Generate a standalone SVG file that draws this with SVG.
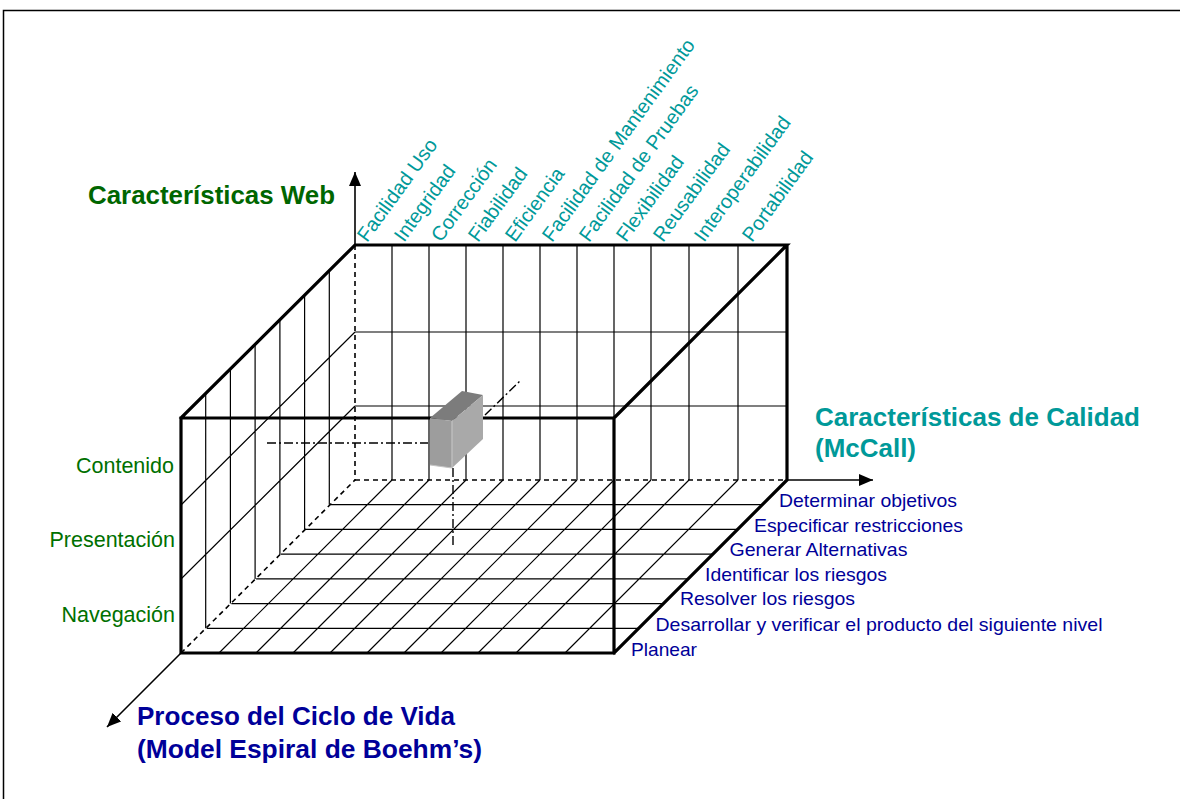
<svg xmlns="http://www.w3.org/2000/svg" width="1180" height="799" viewBox="0 0 1180 799">
<defs>
<marker id="ah" markerUnits="userSpaceOnUse" markerWidth="16" markerHeight="14" refX="14" refY="6" orient="auto">
<path d="M0,0 L14,6 L0,12 z" fill="#000"/>
</marker>
<style>
.thin{stroke:#000;stroke-width:1.2;fill:none}
.thick{stroke:#000;stroke-width:3.2;fill:none;stroke-linecap:square;stroke-linejoin:miter}
.dash{stroke:#000;stroke-width:1.6;fill:none;stroke-dasharray:5 4}
.dd{stroke:#000;stroke-width:1.4;fill:none;stroke-dasharray:9 3 2 3}
.axis{stroke:#000;stroke-width:1.6;fill:none}
text{font-family:"Liberation Sans",Arial,Helvetica,sans-serif}
.t-bold{font-weight:bold;font-size:25px}
.green{fill:#006600}
.teal{fill:#009999}
.blue{fill:#000099}
.lbl-g{font-size:21.5px;fill:#007000;text-anchor:end}
.lbl-b{font-size:19px;fill:#000099}
.lbl-t{font-size:20px;fill:#009999}
</style>
</defs>
<rect id="frame" x="3.5" y="10.5" width="1200" height="800" fill="#fff" stroke="#000" stroke-width="1.5"/>

<g id="cube">
<g id="back-face">
<path class="thin" d="M392,245V480 M429,245V480 M466,245V480 M503,245V480 M540,245V480 M577,245V480 M614,245V480 M651,245V480 M689,245V480 M738,245V480 M355,332H787 M355,406H787"/>
</g>
<g id="left-face">
<path class="thin" d="M205.7,393.3V628.3 M230.4,368.6V603.6 M255.1,343.9V578.9 M279.9,319.1V554.1 M304.6,294.4V529.4 M329.3,269.7V504.7 M181,505L355,332 M181,579L355,406"/>
</g>
<g id="floor">
<path class="thin" d="M330.3,504.7H762.3 M305.6,529.4H737.6 M280.9,554.1H712.9 M256.1,578.9H688.1 M231.4,603.6H663.4 M206.7,628.3H638.7 M219,653L392,480 M256,653L429,480 M293,653L466,480 M330,653L503,480 M367,653L540,480 M404,653L577,480 M441,653L614,480 M478,653L651,480 M516,653L689,480 M565,653L738,480"/>
</g>
<g id="hidden-edges">
<path class="dash" d="M355,245V480 M355,480H787 M181,653L355,480"/>
</g>
<g id="outer-edges">
<path class="thick" d="M181,418H614V653H181Z M181,418L355,245H787L614,418 M787,245V480L614,653"/>
</g>
</g>

<g id="connectors">
<path class="axis" d="M355,245V172" marker-end="url(#ah)"/>
<path class="axis" d="M787,480H873" marker-end="url(#ah)"/>
<path class="axis" d="M181,653L107,727" marker-end="url(#ah)"/>
<path class="dd" d="M267,443H428"/>
<path class="dd" d="M453,468V546"/>
<path class="dd" d="M485,415L521,380"/>
</g>

<g id="box">
<polygon points="430,418 462,391 483,395 452,421" fill="#7c7c7c"/>
<polygon points="430,418 452,421 452,468 430,465" fill="#9d9d9d"/>
<polygon points="452,421 483,395 483,439 452,468" fill="#a9a9a9"/>
<path d="M452,421V468 M430,465L452,468" stroke="#c4c4c4" stroke-width="1.2" fill="none"/>
</g>

<g id="title-web">
<text class="t-bold green" x="88" y="204" textLength="247" lengthAdjust="spacingAndGlyphs">Características Web</text>
</g>
<g id="title-quality">
<text class="t-bold teal" x="815" y="426" textLength="325" lengthAdjust="spacingAndGlyphs">Características de Calidad</text>
<text class="t-bold teal" x="815" y="457" textLength="101" lengthAdjust="spacingAndGlyphs">(McCall)</text>
</g>
<g id="title-process">
<text class="t-bold blue" x="137" y="725" textLength="318" lengthAdjust="spacingAndGlyphs">Proceso del Ciclo de Vida</text>
<text class="t-bold blue" x="137" y="758" textLength="345" lengthAdjust="spacingAndGlyphs">(Model Espiral de Boehm’s)</text>
</g>

<g id="web-labels">
<text class="lbl-g" x="174" y="473">Contenido</text>
<text class="lbl-g" x="175" y="547">Presentación</text>
<text class="lbl-g" x="175" y="622">Navegación</text>
</g>

<g id="process-labels">
<text class="lbl-b" x="779" y="507" textLength="178" lengthAdjust="spacingAndGlyphs">Determinar objetivos</text>
<text class="lbl-b" x="754" y="531.5" textLength="209" lengthAdjust="spacingAndGlyphs">Especificar restricciones</text>
<text class="lbl-b" x="729.5" y="556" textLength="178" lengthAdjust="spacingAndGlyphs">Generar Alternativas</text>
<text class="lbl-b" x="705" y="580.5" textLength="182" lengthAdjust="spacingAndGlyphs">Identificar los riesgos</text>
<text class="lbl-b" x="680" y="605" textLength="175" lengthAdjust="spacingAndGlyphs">Resolver los riesgos</text>
<text class="lbl-b" x="655.5" y="631" textLength="447" lengthAdjust="spacingAndGlyphs">Desarrollar y verificar el producto del siguiente nivel</text>
<text class="lbl-b" x="631" y="656" textLength="66" lengthAdjust="spacingAndGlyphs">Planear</text>
</g>

<g id="quality-labels">
<text class="lbl-t" transform="translate(367,243) rotate(-54)">Facilidad Uso</text>
<text class="lbl-t" transform="translate(404,243) rotate(-54)">Integridad</text>
<text class="lbl-t" transform="translate(441,243) rotate(-54)">Corrección</text>
<text class="lbl-t" transform="translate(478,243) rotate(-54)">Fiabilidad</text>
<text class="lbl-t" transform="translate(515,243) rotate(-54)">Eficiencia</text>
<text class="lbl-t" transform="translate(552,243) rotate(-54)">Facilidad de Mantenimiento</text>
<text class="lbl-t" transform="translate(589,243) rotate(-54)">Facilidad de Pruebas</text>
<text class="lbl-t" transform="translate(626,243) rotate(-54)">Flexibilidad</text>
<text class="lbl-t" transform="translate(663,243) rotate(-54)">Reusabilidad</text>
<text class="lbl-t" transform="translate(704,243) rotate(-54)">Interoperabilidad</text>
<text class="lbl-t" transform="translate(752,243) rotate(-54)">Portabilidad</text>
</g>
</svg>
